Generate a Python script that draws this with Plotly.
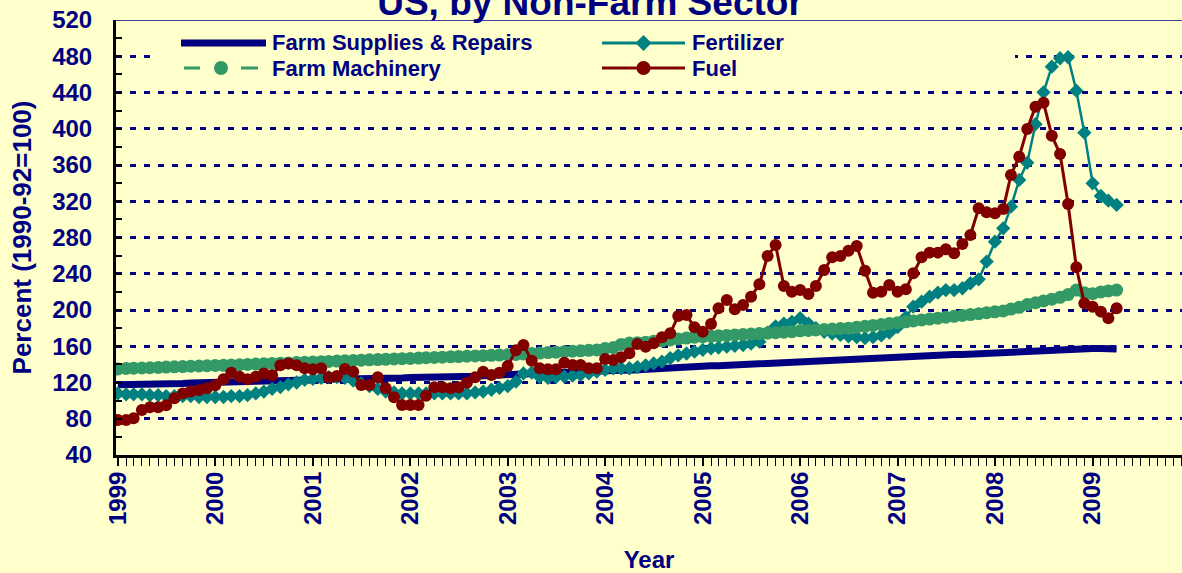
import pandas as pd
import plotly.graph_objects as go

# ---------------- data (monthly, Jan 1999 - Apr 2009) ----------------
months = pd.date_range("1999-01-01", periods=124, freq="MS")

supplies = [117.5, 117.5, 118, 118, 118.5, 118.5, 119, 119, 119, 119.5, 119.5, 120,
            120, 120.5, 120.5, 121, 121, 121.5, 121.5, 122, 122, 122.5, 122.5, 123,
            123, 123, 123.5, 123.5, 124, 124, 124, 124.5, 124.5, 125, 125, 125,
            125.5, 125.5, 126, 126, 126, 126.5, 126.5, 127, 127, 127.5, 127.5, 128,
            128.5, 129, 129.5, 130, 130.5, 131, 131, 131.5, 131.5, 132, 132.5, 132.5,
            133, 133, 133.5, 133.5, 134, 134.5, 136.5, 137, 137, 137.5, 137.5, 138,
            138, 138.5, 138.5, 139, 139.5, 139.5, 140, 140.5, 140.5, 141, 141.5, 142,
            142.5, 143, 143.5, 144, 144.5, 145, 145.5, 146, 146, 146.5, 146.5, 147,
            148, 148.5, 149, 149, 149.5, 150, 150.5, 151, 151, 151.5, 151.5, 152,
            152, 152.5, 153, 153.5, 154, 154.5, 155, 156, 157, 157.5, 157.5, 157.5,
            157.5, 157.5, 157, 157]

fertilizer = [108, 107, 107, 107, 106, 106, 105, 105, 105, 105, 104, 104,
              104, 104, 105, 105, 106, 108, 110, 113, 115, 118, 120, 123,
              124, 125, 126, 126, 125, 122, 119, 116, 113, 110, 109, 108,
              108, 108, 108, 108, 108, 108, 108, 108, 109, 110, 112, 114,
              116, 121, 130, 131, 126, 125, 126, 126.5, 127.5, 128.5, 130, 132,
              134, 135.5, 135.7, 135.7, 137, 139, 141, 143, 147, 150, 152, 154,
              156, 157.7, 158.5, 159.5, 160.5, 161.4, 163, 165, 175, 182, 185, 187,
              191, 185, 180, 176, 174, 172.5, 171, 170, 169, 170, 172, 175,
              181, 192, 203.7, 209.2, 214.7, 219.1, 222, 222, 224, 229.5, 233.9, 253.4,
              275.4, 290.1, 314, 343.5, 362.6, 405, 440.2, 468.5, 477.8, 478.9, 442, 395.7,
              339.8, 325.8, 320.6, 315.9]

machinery = [135, 135.5, 135.8, 136, 136.3, 136.6, 137, 137.3, 137.6, 138, 138.2, 138.5,
             138.8, 139, 139.3, 139.6, 140, 140.3, 140.6, 141, 141.3, 141.6, 142, 142.3,
             142.6, 143, 143.3, 143.6, 144, 144.3, 144.6, 145, 145.3, 145.6, 146, 146.3,
             146.6, 147, 147.3, 147.6, 148, 148.3, 148.6, 149, 149.3, 149.6, 150, 150.3,
             150.6, 151, 151.5, 152, 152.5, 153, 153.5, 154, 154.5, 155, 155.5, 156,
             157.5, 158.5, 162, 163.5, 164, 164.5, 165.5, 166, 167, 168, 169, 170,
             170.5, 171, 171.5, 172, 172.5, 173, 173.5, 174, 174.5, 175, 175.5, 176,
             177, 177.5, 178, 178.5, 179, 179.5, 180, 181, 182, 183, 184, 185,
             186, 187, 188, 189, 190, 191, 192, 193, 194, 195, 196, 197,
             198, 199, 201, 203, 206, 208, 210, 212, 214, 217, 222, 219,
             218, 220, 221, 222]

fuel = [78.6, 78.6, 80.5, 89.7, 92.6, 92.6, 95.0, 102.5, 108.0, 110.0, 111.7, 113.6,
        117.0, 123.5, 130.8, 126.4, 123.5, 126.4, 130.0, 128.0, 139.0, 141.0, 139.0, 135.7,
        134.6, 135.7, 125.7, 127.2, 134.9, 132.0, 117.3, 117.3, 125.7, 113.6, 103.7, 95.2,
        95.2, 95.2, 105.5, 114.7, 114.7, 113.6, 114.7, 119.8, 125.7, 132.0, 128.3, 130.8,
        138.2, 155.5, 161.4, 144.0, 135.7, 134.6, 134.6, 141.9, 139.3, 139.3, 135.7, 135.7,
        146.0, 144.8, 147.8, 152.2, 162.5, 159.5, 163.2, 169.9, 174.3, 193.4, 194.5, 180.9,
        176.0, 184.5, 201.9, 211.0, 200.8, 205.5, 214.7, 228.3, 259.6, 271.7, 226.5, 220.2,
        222.0, 217.7, 226.5, 244.2, 258.2, 259.6, 265.5, 270.7, 243.4, 219.1, 220.2, 227.6,
        220.2, 222.8, 240.5, 258.2, 263.3, 263.3, 267.0, 262.6, 272.9, 282.8, 312.2, 307.8,
        306.7, 311.5, 349.0, 369.2, 399.8, 424.4, 428.8, 392.4, 372.2, 317.0, 247.1, 207.4,
        203.7, 198.2, 190.8, 201.9]

year_ticks = [f"{y}-01-01" for y in range(1999, 2010)]
year_labels = [str(y) for y in range(1999, 2010)]

NAVY = "#000080"
GREEN = "#339966"
TEAL = "#008080"
RED = "#800000"
BG = "#FFFFCC"
FONT = "Liberation Sans, Arial, sans-serif"

fig = go.Figure()
fig.add_trace(go.Scatter(x=months, y=supplies, name="Farm Supplies & Repairs",
                         mode="lines", line=dict(color=NAVY, width=7)))
fig.add_trace(go.Scatter(x=months, y=fertilizer, name="Fertilizer",
                         mode="lines+markers", line=dict(color=TEAL, width=2.5),
                         marker=dict(symbol="diamond", size=11, color=TEAL)))
fig.add_trace(go.Scatter(x=months, y=machinery, name="Farm Machinery",
                         mode="lines+markers", line=dict(color=GREEN, width=3, dash="dash"),
                         marker=dict(symbol="circle", size=13, color=GREEN)))
fig.add_trace(go.Scatter(x=months, y=fuel, name="Fuel",
                         mode="lines+markers", line=dict(color=RED, width=3),
                         marker=dict(symbol="circle", size=12, color=RED)))

W, H = 1182, 573
L, R, T, B = 116, 0, 20, 118
pw, ph = W - L - R, H - T - B


def px(xp):
    return (xp - L) / pw


def py(yp):
    return 1 - (yp - T) / ph


shapes = []
annotations = []
# legend background box covering the gridlines
shapes.append(dict(type="rect", xref="paper", yref="paper", x0=px(150), x1=px(1015),
                   y0=py(80), y1=py(30), fillcolor=BG, line=dict(width=0), layer="above"))
# solid top border
shapes.append(dict(type="line", xref="paper", yref="y", x0=0, x1=1, y0=520, y1=520,
                   line=dict(color=NAVY, width=1.5), layer="above"))

legend_items = [
    ("Farm Supplies & Repairs", NAVY, 181, 266, 43, "thick", 270),
    ("Farm Machinery", GREEN, 184, 258, 68, "dash", 270),
    ("Fertilizer", TEAL, 602, 685, 43, "diamond", 690),
    ("Fuel", RED, 602, 685, 68, "circle", 690),
]
for name, col, x0, x1, yy, kind, tx in legend_items:
    if kind == "thick":
        shapes.append(dict(type="line", xref="paper", yref="paper", x0=px(x0), x1=px(x1),
                           y0=py(yy), y1=py(yy), line=dict(color=col, width=7), layer="above"))
    elif kind == "dash":
        shapes.append(dict(type="line", xref="paper", yref="paper", x0=px(184), x1=px(200),
                           y0=py(yy), y1=py(yy), line=dict(color=col, width=3), layer="above"))
        shapes.append(dict(type="line", xref="paper", yref="paper", x0=px(241), x1=px(258),
                           y0=py(yy), y1=py(yy), line=dict(color=col, width=3), layer="above"))
        shapes.append(dict(type="circle", xref="paper", yref="paper", x0=px(214), x1=px(228),
                           y0=py(yy + 7), y1=py(yy - 7), fillcolor=col, line=dict(width=0),
                           layer="above"))
    else:
        shapes.append(dict(type="line", xref="paper", yref="paper", x0=px(x0), x1=px(x1),
                           y0=py(yy), y1=py(yy), line=dict(color=col, width=3), layer="above"))
        cx = (x0 + x1) / 2
        if kind == "circle":
            shapes.append(dict(type="circle", xref="paper", yref="paper", x0=px(cx - 7),
                               x1=px(cx + 7), y0=py(yy + 7), y1=py(yy - 7), fillcolor=col,
                               line=dict(width=0), layer="above"))
        else:
            d = 8
            path = (f"M {px(cx - d)} {py(yy)} L {px(cx)} {py(yy - d)} "
                    f"L {px(cx + d)} {py(yy)} L {px(cx)} {py(yy + d)} Z")
            shapes.append(dict(type="path", xref="paper", yref="paper", path=path,
                               fillcolor=col, line=dict(width=0), layer="above"))
    annotations.append(dict(text=name, xref="paper", yref="paper", x=px(tx), y=py(yy),
                            xanchor="left", yanchor="middle", showarrow=False,
                            font=dict(family=FONT, size=22, color=NAVY, weight="bold")))

fig.update_layout(
    width=W, height=H,
    margin=dict(l=L, r=R, t=T, b=B, autoexpand=False),
    paper_bgcolor=BG, plot_bgcolor=BG,
    showlegend=False,
    title=dict(text="US, by Non-Farm Sector", xref="container", yref="container",
               x=590 / W, y=1 - 2 / H, xanchor="center", yanchor="middle",
               font=dict(family=FONT, size=37, color=NAVY, weight="bold")),
    shapes=shapes,
    annotations=annotations,
    font=dict(family=FONT, color=NAVY),
)

fig.update_xaxes(
    type="date", range=["1998-12-25", "2009-12-02"],
    tickvals=year_ticks, ticktext=year_labels, tickangle=-90,
    tickfont=dict(family=FONT, size=24, color=NAVY, weight="bold"),
    ticks="outside", ticklen=8, tickwidth=1.5, tickcolor="black",
    ticklabelstandoff=-4,
    minor=dict(dtick="M1", tick0="1999-01-01", ticks="outside", ticklen=8,
               tickwidth=1, tickcolor="black", showgrid=False),
    showgrid=False, zeroline=False,
    showline=True, linecolor="black", linewidth=3,
    title=dict(text="Year", standoff=30,
               font=dict(family=FONT, size=24, color=NAVY, weight="bold")),
)

fig.update_yaxes(
    range=[40, 520], dtick=40, tick0=40,
    tickfont=dict(family=FONT, size=24, color=NAVY, weight="bold"),
    ticks="inside", ticklen=6, tickwidth=2, tickcolor="black",
    ticklabelstandoff=16,
    minor=dict(dtick=20, ticks="inside", ticklen=6, tickwidth=2, tickcolor="black",
               showgrid=False),
    showgrid=True, gridcolor=NAVY, gridwidth=3, griddash="6px,8px",
    zeroline=False,
    showline=True, linecolor="black", linewidth=3,
    title=dict(text="Percent (1990-92=100)", standoff=14,
               font=dict(family=FONT, size=26, color=NAVY, weight="bold")),
)

fig.write_html("out.html",
               config={"displayModeBar": False},
               post_script="document.body.style.margin='0';"
                           "document.body.style.background='#FFFFCC';")
